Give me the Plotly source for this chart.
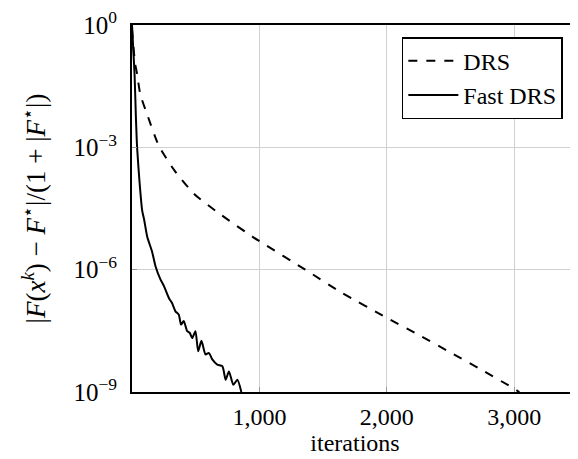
import plotly.graph_objects as go

# DRS (dashed)
drs_iter = [0, 10, 25, 40, 65, 120, 210, 330, 490, 700, 950, 1000, 1360, 1640,
            2000, 2250, 2500, 2750, 3000, 3040]
drs_val = [0.79, 0.32, 0.11, 0.063, 0.02, 6.3e-3, 1.1e-3, 2.8e-4, 7.1e-5, 2.2e-5,
           6.3e-6, 5.0e-6, 1.0e-6, 2.8e-7, 6.6e-8, 2.5e-8, 9.3e-9, 3.4e-9, 1.2e-9, 1.0e-9]

# Fast DRS (solid)
fast_iter = [0, 10, 20, 30, 40, 60, 80, 95, 120, 157, 185, 223, 250, 290, 315, 341,
             367, 385, 406, 433, 454, 472, 498, 519, 545, 577, 603, 630, 669, 709,
             735, 761, 795, 827, 858]
fast_val = [1.0, 0.25, 0.063, 6.3e-3, 1.0e-3, 1.3e-4, 2.8e-5, 1.7e-5, 6.3e-6, 2.8e-6,
            1.2e-6, 5.8e-7, 4.0e-7, 2.0e-7, 1.5e-7, 9.5e-8, 7.9e-8, 4.5e-8, 5.5e-8,
            3.1e-8, 2.8e-8, 2.1e-8, 3.1e-8, 1.0e-8, 1.8e-8, 8.3e-9, 9.1e-9, 6.3e-9,
            4.7e-9, 4.3e-9, 2.0e-9, 3.2e-9, 1.5e-9, 2.0e-9, 1.0e-9]

x_ticks = [1000, 2000, 3000]
x_ticktext = ["1,000", "2,000", "3,000"]
y_ticks = [1, 1e-3, 1e-6, 1e-9]
y_ticktext = ["10<sup>0</sup>", "10<sup>\u22123</sup>", "10<sup>\u22126</sup>", "10<sup>\u22129</sup>"]

FONT = "Liberation Serif"

fig = go.Figure()
fig.add_trace(go.Scatter(x=drs_iter, y=drs_val, mode="lines", name="DRS",
                         line=dict(color="black", width=2, dash="dash", shape="spline", smoothing=0.6)))
fig.add_trace(go.Scatter(x=fast_iter, y=fast_val, mode="lines", name="Fast DRS",
                         line=dict(color="black", width=2, shape="spline", smoothing=0.6)))

fig.update_layout(
    template="none",
    width=578, height=459,
    margin=dict(l=124, r=8, t=17, b=75, autoexpand=False),
    paper_bgcolor="white", plot_bgcolor="white",
    font=dict(family=FONT, size=24, color="black"),
    legend=dict(x=0.966, y=0.967, xanchor="right", yanchor="top",
                bgcolor="white", bordercolor="black", borderwidth=1.5,
                font=dict(family=FONT, size=24, color="black"), itemwidth=50,
                tracegroupgap=0),
    xaxis=dict(range=[0, 3500], tickvals=x_ticks, ticktext=x_ticktext,
               automargin=False,
               showgrid=True, gridcolor="#d0d0d0", gridwidth=1,
               showline=True, linecolor="black", linewidth=2, mirror=True,
               ticks="inside", ticklen=5, tickcolor="#999999",
               ticklabelstandoff=2, zeroline=False,
               title=dict(text="iterations", font=dict(family=FONT, size=24, color="black"), standoff=4),
               tickfont=dict(family=FONT, size=24, color="black")),
    yaxis=dict(type="log", range=[-9, 0.0005], tickvals=y_ticks, ticktext=y_ticktext,
               automargin=False,
               showgrid=True, gridcolor="#d0d0d0", gridwidth=1,
               showline=True, linecolor="black", linewidth=2, mirror=True,
               ticks="inside", ticklen=5, tickcolor="#999999",
               ticklabelstandoff=8, ticklabeloverflow="allow", zeroline=False,
               tickfont=dict(family=FONT, size=25, color="black"),
               title=dict(text="|<i>F</i>(<i>x</i><sup><i>k</i></sup>) \u2212 <i>F</i><sup>\u22c6</sup>|/(1 + |<i>F</i><sup>\u22c6</sup>|)",
                          font=dict(family=FONT, size=27, color="black"), standoff=20)),
)

fig.write_html("out.html")
